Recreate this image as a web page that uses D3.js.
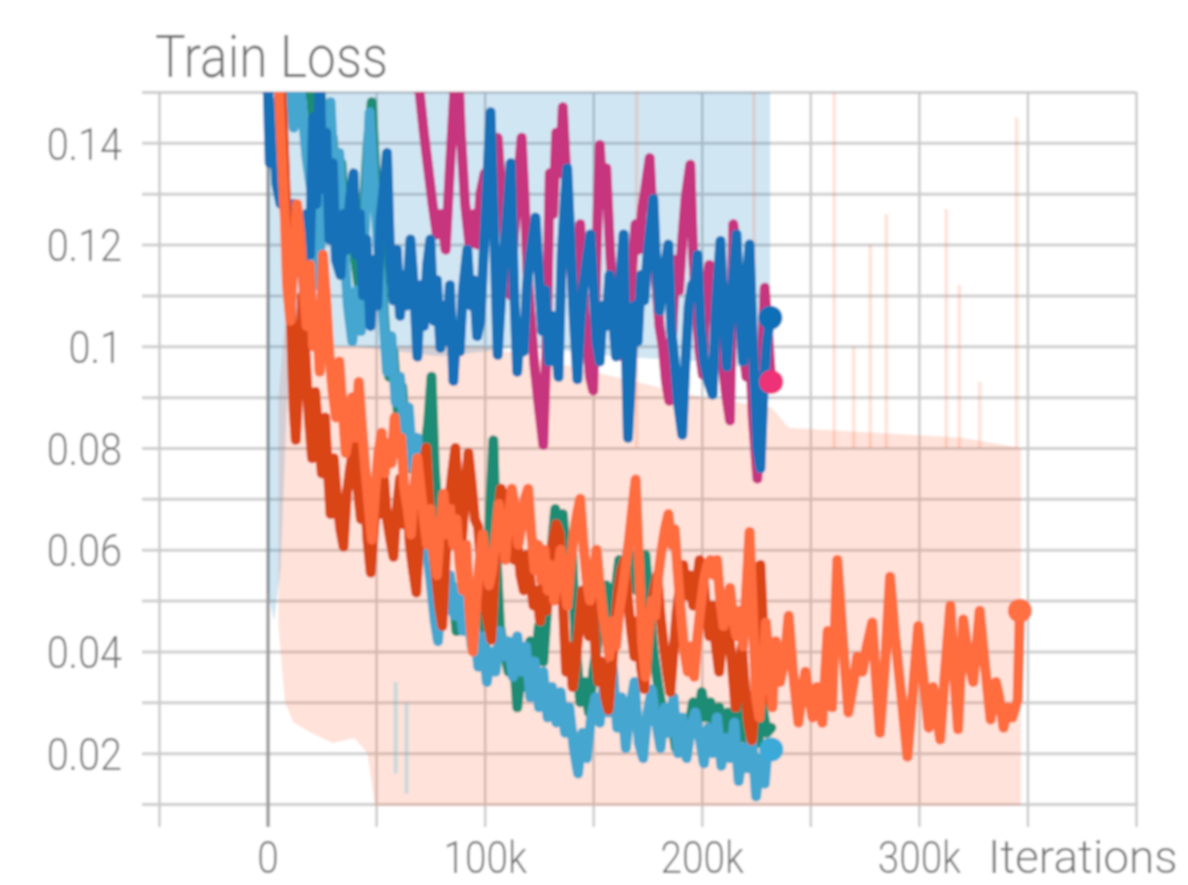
<!DOCTYPE html>
<html>
<head>
<meta charset="utf-8">
<script src="https://cdn.jsdelivr.net/npm/d3@7"></script>
<style>
  html, body { margin: 0; padding: 0; background: #fff; }
  svg { display: block; }
  text { font-family: Roboto, "Noto Sans", sans-serif; font-weight: 300; fill: #6e6e6e; }
</style>
</head>
<body>
<svg id="chart" width="1188" height="885"></svg>
<script>
// ---------------- data (iterations in thousands, loss values) ----------------
const title = "Train Loss";
const xAxisTitle = "Iterations";
const xGridTicks = [-50, 0, 50, 100, 150, 200, 250, 300, 350, 400];
const xLabelTicks = [0, 100, 200, 300];
const xTickLabels = ["0", "100k", "200k", "300k"];
const yGridTicks = [0.01, 0.02, 0.03, 0.04, 0.05, 0.06, 0.07, 0.08, 0.09, 0.10, 0.11, 0.12, 0.13, 0.14, 0.15];
const yLabelTicks = [0.02, 0.04, 0.06, 0.08, 0.10, 0.12, 0.14];
const yTickLabels = ["0.02", "0.04", "0.06", "0.08", "0.1", "0.12", "0.14"];

// raw (unsmoothed) envelopes: [iteration k, low, high]
const blueRaw = [[0,0.052,0.17],[3,0.046,0.17],[6,0.056,0.17],[9,0.09,0.17],[14,0.1,0.17],[40,0.1,0.17],[80,0.098,0.17],[120,0.1,0.17],[160,0.098,0.17],[200,0.097,0.17],[231.5,0.095,0.17]];
const orangeRaw = [[5,0.045,0.09],[8,0.03,0.105],[12,0.026,0.105],[20,0.024,0.1],[30,0.022,0.1],[40,0.023,0.1],[46,0.02,0.1],[50,0.008,0.1],[100,0.005,0.1],[150,0.005,0.095],[200,0.005,0.09],[232,0.005,0.088],[240,0.005,0.084],[280,0.005,0.083],[320,0.005,0.082],[347,0.005,0.08]];
const orangeRawSpikes = [[170,0.16],[224,0.16],[261,0.16],[270,0.1],[277.6,0.12],[285,0.126],[312.6,0.127],[318.6,0.112],[328,0.093],[345,0.145]];
const lightBlueRawSpikes = [[59,0.034,0.016],[64,0.03,0.012]];

// smoothed series: [iteration k, loss]
const magenta = [[0,0.22],[30,0.19],[60,0.165],[68,0.158],[70,0.15],[72,0.142],[74,0.135],[76,0.128],[78,0.122],[80,0.126],[82,0.119],[84,0.135],[86,0.15],[87.5,0.158],[89,0.142],[91,0.128],[93,0.12],[95,0.126],[96.7,0.12],[98,0.13],[100,0.134],[102,0.128],[104,0.139],[106,0.141],[108,0.128],[110,0.118],[112,0.11],[113.5,0.122],[115,0.131],[117,0.141],[118.5,0.128],[120,0.112],[121.5,0.104],[123,0.096],[125,0.088],[127,0.0806],[128.5,0.1],[130,0.134],[131.5,0.126],[133,0.142],[134.5,0.134],[136,0.147],[138,0.13],[139.5,0.118],[141,0.108],[142.5,0.115],[144,0.124],[145.5,0.11],[147,0.101],[148.5,0.094],[150,0.0913],[151.5,0.118],[153,0.1396],[154.5,0.128],[156,0.135],[157.5,0.121],[159,0.109],[160.5,0.1],[162,0.108],[163.5,0.098],[165,0.111],[166.5,0.104],[168,0.116],[169.5,0.124],[171,0.119],[172.5,0.127],[174,0.131],[176,0.137],[177.5,0.124],[179,0.113],[180.5,0.104],[182,0.1],[183.5,0.093],[185,0.0893],[186.5,0.104],[188,0.117],[189.5,0.111],[191,0.121],[192.5,0.129],[194.7,0.1357],[196,0.118],[197.5,0.108],[199,0.099],[200.5,0.0944],[202,0.112],[203.5,0.116],[205,0.109],[206.5,0.103],[208,0.114],[209.5,0.097],[211,0.091],[213,0.0854],[214.5,0.124],[216,0.119],[217.5,0.107],[219,0.1],[220.5,0.094],[222,0.101],[223.5,0.086],[225.6,0.074],[227,0.09],[229,0.1115],[230.5,0.103],[232,0.093]];

const teal = [[0,0.17],[5,0.162],[10,0.158],[15,0.155],[20,0.149],[22,0.14],[24,0.152],[26,0.142],[28,0.133],[30,0.141],[32,0.128],[34,0.136],[36,0.122],[38,0.131],[40,0.118],[42,0.112],[44,0.125],[46,0.139],[48,0.148],[50,0.131],[52,0.118],[54,0.104],[56,0.094],[58,0.099],[60,0.087],[62,0.092],[64,0.081],[66,0.076],[68,0.082],[70,0.071],[72,0.078],[74,0.085],[75.5,0.094],[77,0.076],[79,0.063],[81,0.055],[83,0.049],[85,0.053],[87,0.044],[89,0.048],[91,0.052],[93,0.046],[95,0.042],[97,0.047],[99,0.038],[101,0.044],[102.5,0.068],[104,0.0815],[105.5,0.058],[107,0.045],[109,0.04],[111,0.036],[113,0.041],[115,0.029],[117,0.037],[119,0.033],[121,0.042],[123,0.036],[125,0.045],[127,0.038],[129,0.05],[131,0.061],[132.5,0.068],[134,0.062],[136,0.067],[138,0.055],[140,0.062],[142,0.041],[144,0.03],[146,0.034],[148,0.028],[150,0.036],[152,0.042],[154,0.049],[156,0.053],[158,0.046],[160,0.051],[162,0.058],[164,0.055],[166,0.06],[168,0.056],[170,0.052],[172,0.057],[174,0.059],[176,0.048],[178,0.039],[180,0.033],[182,0.028],[184,0.024],[186,0.027],[188,0.021],[190,0.026],[192,0.02],[194,0.025],[196,0.03],[198,0.026],[200,0.032],[202,0.027],[204,0.03],[206,0.024],[208,0.029],[210,0.023],[212,0.028],[214,0.025],[216,0.03],[218,0.023],[220,0.027],[222,0.021],[224,0.026],[226,0.022],[228,0.029],[230,0.024],[232,0.025]];

const lightBlue = [[0,0.16],[3,0.152],[6,0.148],[9,0.156],[12,0.143],[15,0.151],[18,0.137],[21,0.128],[23,0.112],[25,0.124],[27,0.135],[29,0.148],[31,0.129],[33,0.138],[35,0.121],[37,0.108],[39,0.101],[41,0.111],[43,0.103],[45,0.125],[47,0.146],[49,0.132],[51,0.119],[53,0.108],[55,0.095],[57,0.102],[59,0.089],[61,0.094],[63,0.083],[65,0.088],[67,0.076],[69,0.082],[71,0.068],[73,0.061],[75,0.054],[77,0.046],[78.5,0.042],[80,0.051],[82,0.048],[84,0.055],[86,0.047],[88,0.052],[90,0.044],[92,0.049],[94,0.041],[95.5,0.045],[97,0.037],[99,0.043],[101,0.034],[103,0.04],[105,0.036],[107,0.044],[109,0.039],[111,0.042],[113,0.035],[115,0.043],[117,0.036],[119,0.041],[121,0.031],[123,0.038],[125,0.029],[127,0.036],[129,0.027],[131,0.033],[133,0.026],[135,0.032],[137,0.024],[139,0.029],[141,0.021],[143,0.016],[145,0.024],[147,0.019],[149,0.027],[151,0.031],[153,0.026],[155,0.034],[157,0.028],[159,0.037],[161,0.025],[163,0.031],[165,0.021],[167,0.029],[169,0.034],[171,0.022],[173,0.019],[175,0.028],[177,0.0325],[179,0.026],[181,0.021],[183,0.029],[185,0.024],[187,0.031],[189,0.02],[191,0.027],[193,0.019],[195,0.025],[197,0.028],[199,0.023],[201,0.018],[203,0.025],[205,0.02],[207,0.027],[209,0.0175],[211,0.023],[213,0.019],[215,0.026],[217,0.0145],[219,0.021],[221,0.017],[223,0.024],[225,0.0115],[227,0.019],[229,0.014],[230.5,0.022],[232,0.0207]];

const blue = [[0,0.152],[1,0.136],[2.5,0.148],[4,0.132],[6,0.128],[7.5,0.137],[9,0.121],[10.6,0.119],[12,0.128],[14,0.117],[16.6,0.113],[18,0.126],[19.5,0.118],[21,0.145],[22.5,0.128],[24,0.152],[25.5,0.131],[27,0.142],[28.5,0.121],[30,0.136],[31.5,0.117],[33.6,0.114],[35,0.126],[36.5,0.119],[38,0.129],[39.6,0.134],[41,0.118],[42.5,0.126],[44,0.11],[45.5,0.121],[47.4,0.104],[49,0.117],[50.5,0.108],[52,0.125],[53.5,0.131],[55,0.138],[56.5,0.117],[58,0.109],[59.5,0.119],[61,0.106],[62.5,0.114],[64,0.108],[65.8,0.121],[67.5,0.111],[69,0.098],[70.5,0.112],[72,0.104],[73.5,0.116],[75,0.121],[76.5,0.105],[78,0.113],[79.6,0.0997],[81,0.108],[82.5,0.101],[84,0.112],[85.6,0.0932],[87,0.103],[88.5,0.099],[90,0.111],[92,0.119],[93.5,0.108],[95,0.113],[96.5,0.102],[98,0.105],[99.5,0.118],[101,0.131],[102.7,0.146],[104.5,0.121],[106,0.0983],[107.5,0.109],[109,0.118],[110.5,0.127],[112,0.136],[113.5,0.112],[115,0.095],[116.5,0.104],[118,0.099],[119.5,0.112],[121,0.118],[123.4,0.1253],[125,0.114],[126.5,0.103],[128,0.111],[129.5,0.097],[131,0.106],[132.5,0.101],[134,0.094],[135.5,0.118],[137,0.129],[138,0.135],[139.5,0.121],[141,0.106],[142.7,0.0935],[144,0.104],[145.5,0.112],[147,0.117],[148.7,0.122],[150,0.113],[151.5,0.101],[153,0.097],[154.5,0.108],[156,0.104],[157.5,0.114],[159,0.106],[160.5,0.098],[162,0.111],[164,0.122],[165,0.1],[166,0.082],[167.5,0.094],[169,0.108],[170.5,0.101],[172,0.114],[173.5,0.109],[175,0.118],[177.7,0.129],[179,0.116],[180.5,0.107],[182,0.113],[184.6,0.12],[186,0.103],[187.5,0.097],[189,0.089],[191,0.0826],[192.5,0.097],[194,0.108],[195.5,0.112],[197,0.113],[198,0.118],[199.5,0.104],[201,0.097],[203,0.093],[205,0.0905],[206.5,0.108],[208.6,0.1207],[210,0.107],[211.5,0.096],[213,0.105],[214.5,0.114],[216,0.122],[217.5,0.106],[219,0.097],[220.5,0.112],[222,0.12],[223.5,0.101],[225.6,0.08],[227,0.076],[228.5,0.092],[230,0.101],[231.6,0.1056]];

const darkOrange = [[0,0.2],[3,0.175],[5,0.16],[7,0.145],[8.5,0.128],[10,0.118],[11,0.102],[12,0.088],[13,0.0816],[14.5,0.095],[16,0.11],[17.5,0.098],[19,0.086],[20.5,0.078],[22,0.091],[23.5,0.082],[25,0.075],[26.5,0.086],[28,0.074],[29,0.067],[30.5,0.078],[32,0.07],[33.5,0.064],[35,0.0606],[36.5,0.071],[38,0.076],[40,0.081],[41.5,0.072],[43,0.066],[44.5,0.074],[46,0.062],[47.5,0.0555],[49,0.064],[50.5,0.072],[52,0.067],[53.5,0.075],[55,0.066],[56.5,0.062],[58,0.0586],[59.5,0.068],[61,0.074],[62.5,0.065],[64,0.071],[65.5,0.061],[67,0.056],[68.5,0.0516],[70,0.063],[71.5,0.074],[73,0.08],[74.5,0.068],[76,0.061],[77.5,0.055],[79,0.049],[80.5,0.045],[82,0.058],[83.5,0.069],[85,0.075],[86.5,0.08],[88,0.07],[89.5,0.062],[91,0.071],[92.5,0.079],[94,0.073],[95.5,0.066],[97,0.0645],[98.5,0.056],[100,0.049],[101.5,0.046],[103,0.0423],[104.5,0.055],[106,0.066],[107.5,0.072],[109,0.068],[110.5,0.071],[112,0.064],[113.5,0.058],[115,0.062],[116.5,0.055],[118,0.052],[119.5,0.059],[121,0.054],[122.5,0.049],[124,0.052],[125.5,0.046],[127,0.055],[128.5,0.048],[130,0.057],[131.5,0.062],[133,0.065],[134.5,0.063],[136,0.05],[137.5,0.036],[139,0.041],[140.5,0.033],[142,0.038],[143.5,0.045],[145,0.052],[146.5,0.047],[148,0.043],[149.5,0.05],[151,0.04],[152.5,0.034],[154,0.038],[155.5,0.031],[157,0.0285],[158.5,0.036],[160,0.045],[161.5,0.052],[163,0.056],[164.5,0.058],[166,0.05],[167.5,0.044],[169,0.039],[170.5,0.046],[172,0.037],[173.5,0.0326],[175,0.041],[176.5,0.048],[178,0.052],[179.5,0.055],[181,0.047],[182.5,0.041],[184,0.036],[185.5,0.032],[187,0.04],[188.5,0.048],[190,0.053],[191.5,0.057],[193,0.051],[194.5,0.055],[196,0.049],[197.5,0.053],[199,0.058],[200.5,0.056],[202,0.048],[203.5,0.043],[205,0.049],[206.5,0.041],[208,0.036],[209.5,0.043],[211,0.048],[212.5,0.044],[214,0.037],[215.5,0.029],[217,0.035],[218.5,0.041],[220,0.032],[221.5,0.026],[223,0.0225],[224.5,0.03],[226,0.045],[227,0.057],[228.5,0.043],[230,0.033],[231.5,0.03]];

const orange = [[0,0.21],[2,0.185],[3.5,0.165],[5,0.152],[6.5,0.138],[8,0.125],[9,0.112],[10.5,0.105],[12,0.118],[13.5,0.128],[15,0.122],[16.5,0.112],[18,0.104],[19.5,0.116],[21,0.1],[22.5,0.108],[24,0.095],[25.5,0.118],[27,0.109],[28.5,0.098],[30,0.091],[31.5,0.086],[33,0.097],[34.5,0.088],[36,0.079],[37.5,0.083],[39,0.09],[40.5,0.082],[42,0.093],[43.5,0.084],[45,0.076],[46.5,0.069],[48,0.062],[49.5,0.071],[51,0.079],[52.5,0.083],[54,0.075],[55.5,0.081],[57,0.077],[58.5,0.086],[60,0.079],[61.5,0.082],[63,0.072],[64.5,0.068],[66,0.063],[67.5,0.072],[69,0.078],[70.5,0.072],[72,0.066],[73.5,0.061],[75,0.068],[76.5,0.059],[78,0.055],[79.5,0.064],[81,0.071],[82.5,0.063],[84,0.068],[85.5,0.061],[87,0.066],[88.5,0.057],[90,0.052],[91.5,0.061],[93,0.048],[94.5,0.04],[96,0.049],[97.5,0.057],[99,0.063],[100.5,0.058],[102,0.053],[103.5,0.056],[105,0.062],[106.5,0.069],[108,0.064],[109.5,0.058],[111,0.066],[112.5,0.072],[114,0.068],[115.5,0.061],[117,0.065],[118.5,0.07],[120,0.072],[121.5,0.063],[123,0.056],[124.5,0.061],[126,0.054],[127.5,0.06],[129,0.052],[130.5,0.057],[132,0.05],[133.5,0.055],[135,0.06],[136.5,0.054],[138,0.049],[139.5,0.057],[141,0.063],[142.5,0.067],[144,0.07],[145.5,0.061],[147,0.054],[148.5,0.05],[150,0.055],[151.5,0.06],[153,0.053],[154.5,0.047],[156,0.043],[157.5,0.039],[159,0.046],[160.5,0.041],[162,0.048],[163.5,0.052],[165,0.057],[166.5,0.062],[168,0.068],[169.5,0.0738],[171,0.058],[172.5,0.042],[174,0.035],[175.5,0.044],[177,0.05],[178.5,0.047],[180,0.055],[181.5,0.06],[183,0.064],[184.6,0.067],[186,0.061],[187.5,0.064],[189,0.055],[190.5,0.047],[192,0.04],[193.5,0.036],[195,0.041],[196.5,0.035],[198,0.043],[199.5,0.049],[201,0.054],[202.5,0.057],[204,0.058],[205.5,0.055],[207,0.058],[208.5,0.05],[210,0.045],[211.5,0.049],[213,0.0525],[214.5,0.046],[216,0.043],[217.5,0.048],[219,0.041],[220.5,0.052],[222,0.0635],[223.5,0.048],[225,0.031],[226.5,0.027],[228,0.036],[229.5,0.0457],[231,0.037],[232.5,0.029],[234,0.042],[236,0.034],[238,0.038],[240,0.047],[242,0.036],[244.5,0.026],[246,0.031],[247.7,0.036],[249.5,0.031],[251,0.027],[253,0.033],[255.5,0.026],[258,0.044],[260,0.029],[262.4,0.058],[265,0.042],[267.5,0.028],[270,0.034],[271.6,0.039],[274,0.036],[276,0.041],[278.5,0.0457],[280,0.036],[282,0.024],[284.5,0.038],[286.7,0.0547],[289,0.043],[292,0.031],[294.7,0.0193],[297,0.031],[299.7,0.045],[302,0.035],[304.5,0.025],[306.5,0.033],[309.8,0.0227],[312,0.036],[314.5,0.049],[316,0.037],[318,0.0247],[320.4,0.0463],[323,0.038],[325,0.034],[328,0.048],[330.5,0.037],[333,0.0266],[335.5,0.034],[337,0.031],[339,0.025],[341,0.029],[343,0.027],[345.5,0.0305],[346.5,0.048]];

const seriesList = [
  { name: "magenta",    data: magenta,    line: "#c8347f", dot: "#ee3377", showDot: true },
  { name: "teal",       data: teal,       line: "#1e8c74", dot: "#009988", showDot: false },
  { name: "lightBlue",  data: lightBlue,  line: "#45a6d0", dot: "#3aaad8", showDot: true },
  { name: "blue",       data: blue,       line: "#1471b8", dot: "#0f70b6", showDot: true },
  { name: "darkOrange", data: darkOrange, line: "#da4418", dot: "#cc3311", showDot: false },
  { name: "orange",     data: orange,     line: "#ff6c3c", dot: "#ff7043", showDot: true }
];

// ---------------- drawing ----------------
const svg = d3.select("#chart");
const pLeft = 159, pRight = 1136, pTop = 92, pBottom = 804;

const x = d3.scaleLinear().domain([-50, 400]).range([pLeft, pRight]);
const y = d3.scaleLinear().domain([0.01, 0.15]).range([pBottom, pTop]);

const defs = svg.append("defs");
defs.append("clipPath").attr("id", "plotClip")
  .append("rect").attr("x", pLeft).attr("y", pTop).attr("width", pRight - pLeft).attr("height", pBottom - pTop + 2);
const blur = defs.append("filter").attr("id", "soft").attr("x", "-5%").attr("y", "-5%").attr("width", "110%").attr("height", "110%");
blur.append("feGaussianBlur").attr("stdDeviation", 0.8);

const root = svg.append("g").attr("filter", "url(#soft)");
root.append("rect").attr("width", 1188).attr("height", 885).attr("fill", "#fff");

// gridlines via axes
const hGrid = root.append("g").attr("transform", `translate(142,0)`)
  .call(d3.axisLeft(y).tickValues(yGridTicks).tickSize(-(pRight - 142)).tickFormat(""));
hGrid.select(".domain").remove();
hGrid.selectAll("line").attr("stroke", "#cfcfcf").attr("stroke-width", 3);

const vGrid = root.append("g").attr("transform", `translate(0,827)`)
  .call(d3.axisBottom(x).tickValues(xGridTicks).tickSize(-(827 - pTop)).tickFormat(""));
vGrid.select(".domain").remove();
vGrid.selectAll("line").attr("stroke", d => d === 0 ? "#9c9c9c" : "#cacaca").attr("stroke-width", d => d === 0 ? 3.5 : 2.5);

const plot = root.append("g").attr("clip-path", "url(#plotClip)");

// raw envelopes
const band = d3.area().x(d => x(d[0])).y0(d => y(d[1])).y1(d => y(d[2]));
plot.append("path").datum(orangeRaw).attr("d", band).attr("fill", "#ff7043").attr("opacity", 0.2);
plot.append("path").datum(blueRaw).attr("d", band).attr("fill", "#0077bb").attr("opacity", 0.18);

plot.selectAll("line.spike").data(orangeRawSpikes).join("line").attr("class", "spike")
  .attr("x1", d => x(d[0])).attr("x2", d => x(d[0]))
  .attr("y1", y(0.08)).attr("y2", d => y(d[1]))
  .attr("stroke", "#ff7043").attr("stroke-opacity", 0.2).attr("stroke-width", 3.5);
plot.selectAll("line.lbspike").data(lightBlueRawSpikes).join("line").attr("class", "lbspike")
  .attr("x1", d => x(d[0])).attr("x2", d => x(d[0]))
  .attr("y1", d => y(d[1])).attr("y2", d => y(d[2]))
  .attr("stroke", "#33bbee").attr("stroke-opacity", 0.25).attr("stroke-width", 4);

// smoothed lines
const line = d3.line().x(d => x(d[0])).y(d => y(d[1]));
seriesList.forEach(s => {
  plot.append("path").datum(s.data).attr("d", line)
    .attr("fill", "none").attr("stroke", s.line).attr("stroke-width", 10)
    .attr("stroke-linejoin", "round").attr("stroke-linecap", "round");
});
seriesList.filter(s => s.showDot).forEach(s => {
  const last = s.data[s.data.length - 1];
  root.append("circle").attr("cx", x(last[0])).attr("cy", y(last[1])).attr("r", 12).attr("fill", s.dot);
});

// labels via axes
const yLab = root.append("g").attr("transform", "translate(122,0)")
  .call(d3.axisLeft(y).tickValues(yLabelTicks).tickSize(0).tickFormat((d, i) => yTickLabels[i]));
yLab.select(".domain").remove();
yLab.selectAll("text").attr("x", 0).attr("dy", "0.36em").attr("text-anchor", "end")
  .attr("transform", "scale(0.88,1)")
  .style("font-size", "45px").style("font-family", "Roboto, sans-serif").style("font-weight", 300).attr("fill", "#6e6e6e");

const xLab = root.append("g").attr("transform", "translate(0,873)")
  .call(d3.axisBottom(x).tickValues(xLabelTicks).tickSize(0).tickFormat((d, i) => xTickLabels[i]));
xLab.select(".domain").remove();
xLab.selectAll("text").attr("y", 0).attr("dy", 0)
  .attr("transform", "scale(0.88,1)")
  .style("font-size", "44px").style("font-family", "Roboto, sans-serif").style("font-weight", 300).attr("fill", "#6e6e6e");

root.append("text").attr("x", 988).attr("y", 873).text(xAxisTitle)
  .style("font-size", "46px");

root.append("text").attr("x", 155).attr("y", 77).text(title)
  .attr("textLength", 233).attr("lengthAdjust", "spacingAndGlyphs")
  .style("font-size", "60px");
</script>
</body>
</html>
